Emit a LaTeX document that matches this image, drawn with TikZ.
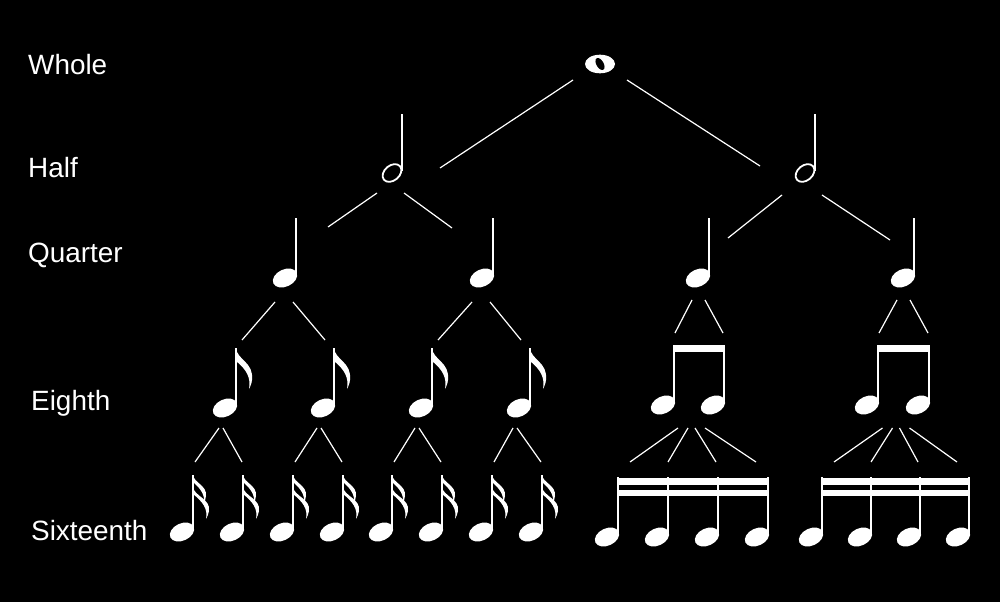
\documentclass[tikz,border=0pt]{standalone}
\usepackage{fontspec}
\setmainfont{Liberation Sans}
\usepackage{tikz}
\usetikzlibrary{calc}

\begin{document}
\begin{tikzpicture}[x=1bp,y=-1bp,line join=bevel,
  link/.style={draw=white,line width=1.2bp},
  lbl/.style={text=white,inner sep=0pt,anchor=base west,font=\fontsize{28}{34}\selectfont},
  nhead/.pic={\fill[white,rotate=25] (0,0) ellipse [x radius=12.8, y radius=8.6];},
  wholenote/.pic={\fill[white] (0,0) ellipse [x radius=15, y radius=9.3];
    \fill[black,rotate=30] (0,0) ellipse [x radius=3.6, y radius=6.6];},
  halfnote/.pic={\draw[white,line width=1.8bp,rotate=40] (0,0) ellipse [x radius=10.5, y radius=7.5];
    \fill[white] (8.6,-2) rectangle (10.7,-59);},
  quarternote/.pic={\pic{nhead}; \fill[white] (9.8,-1) rectangle (12.4,-60);},
  eighthnote/.pic={\pic{quarternote};
    \fill[white] (11,-60) .. controls (12,-48) and (29,-46) .. (27,-28)
      .. controls (26.5,-24) and (25.5,-22) .. (24,-19)
      .. controls (26,-30) and (22,-38) .. (11,-47) -- cycle;},
  sixteenthnote/.pic={\pic{nhead}; \fill[white] (9.8,-1) rectangle (12.4,-57);
    \fill[white] (11,-57) .. controls (12,-49) and (25,-47) .. (24,-36)
      .. controls (23.5,-33) and (23,-31) .. (22,-29)
      .. controls (23,-37) and (19,-43) .. (11,-50) -- cycle;
    \fill[white] (11,-45) .. controls (12,-36) and (29,-33) .. (27,-21)
      .. controls (26.5,-18) and (25.5,-16) .. (24,-13)
      .. controls (26,-23) and (21,-30) .. (11,-38) -- cycle;}]
\path[use as bounding box,fill=black] (0,0) rectangle (1000,602);
%%
  % Labels
  \node[lbl] (lwhole) at (28,75) {Whole};
  \node[lbl] (lhalf) at (28,178) {Half};
  \node[lbl] (lquarter) at (28,263) {Quarter};
  \node[lbl] (leighth) at (31,410) {Eighth};
  \node[lbl] (lsixteenth) at (31,540) {Sixteenth};
  % Node: w
  \path (600,64) coordinate (w) pic {wholenote};
  % Node: h1, h2
  \path (392,173) coordinate (h1) pic {halfnote};
  \path (805,173) coordinate (h2) pic {halfnote};
  % Node: q1 .. q4
  \path (285,278) coordinate (q1) pic {quarternote};
  \path (482,278) coordinate (q2) pic {quarternote};
  \path (698,278) coordinate (q3) pic {quarternote};
  \path (903,278) coordinate (q4) pic {quarternote};
  % Node: e1 .. e4
  \path (225,408) coordinate (e1) pic {eighthnote};
  \path (323,408) coordinate (e2) pic {eighthnote};
  \path (421,408) coordinate (e3) pic {eighthnote};
  \path (519,408) coordinate (e4) pic {eighthnote};
  % Node: b1 .. b4 (beamed eighths)
  \path (663,405) coordinate (b1) pic {quarternote};
  \path (713,405) coordinate (b2) pic {quarternote};
  \path (867,405) coordinate (b3) pic {quarternote};
  \path (918,405) coordinate (b4) pic {quarternote};
  \fill[white] ($(b1)+(9.8,-60)$) rectangle ($(b2)+(12.4,-53)$);
  \fill[white] ($(b3)+(9.8,-60)$) rectangle ($(b4)+(12.4,-53)$);
  \coordinate (p1) at ($(b1)!.5!(b2)$);
  \coordinate (p2) at ($(b3)!.5!(b4)$);
  % Node: s1 .. s8
  \path (182,532) coordinate (s1) pic {sixteenthnote};
  \path (232,532) coordinate (s2) pic {sixteenthnote};
  \path (282,532) coordinate (s3) pic {sixteenthnote};
  \path (332,532) coordinate (s4) pic {sixteenthnote};
  \path (381,532) coordinate (s5) pic {sixteenthnote};
  \path (431,532) coordinate (s6) pic {sixteenthnote};
  \path (481,532) coordinate (s7) pic {sixteenthnote};
  \path (531,532) coordinate (s8) pic {sixteenthnote};
  % Node: t1 .. t8 (beamed sixteenths)
  \path (607,537) coordinate (t1) pic {quarternote};
  \path (657,537) coordinate (t2) pic {quarternote};
  \path (707,537) coordinate (t3) pic {quarternote};
  \path (757,537) coordinate (t4) pic {quarternote};
  \path (811,537) coordinate (t5) pic {quarternote};
  \path (860,537) coordinate (t6) pic {quarternote};
  \path (909,537) coordinate (t7) pic {quarternote};
  \path (958,537) coordinate (t8) pic {quarternote};
  \fill[white] ($(t1)+(9.8,-59)$) rectangle ($(t4)+(12.4,-52)$);
  \fill[white] ($(t1)+(9.8,-47)$) rectangle ($(t4)+(12.4,-41)$);
  \fill[white] ($(t5)+(9.8,-59)$) rectangle ($(t8)+(12.4,-52)$);
  \fill[white] ($(t5)+(9.8,-47)$) rectangle ($(t8)+(12.4,-41)$);
  % Edge: w -- h1, h2
  \draw[link] ($(w)+(-27,16)$) -- ($(h1)+(48,-5)$);
  \draw[link] ($(w)+(27,16)$) -- ($(h2)+(-45,-7)$);
  % Edge: h -- q
  \draw[link] ($(h1)+(-15,20)$) -- ($(q1)+(43,-51)$);
  \draw[link] ($(h1)+(12,20)$) -- ($(q2)+(-30,-50)$);
  \draw[link] ($(h2)+(-23,22)$) -- ($(q3)+(30,-40)$);
  \draw[link] ($(h2)+(17,22)$) -- ($(q4)+(-13,-38)$);
  % Edge: q -- e
  \draw[link] ($(q1)+(-10,24)$) -- ($(e1)+(17,-68)$);
  \draw[link] ($(q1)+(8,24)$) -- ($(e2)+(2,-68)$);
  \draw[link] ($(q2)+(-10,24)$) -- ($(e3)+(17,-68)$);
  \draw[link] ($(q2)+(8,24)$) -- ($(e4)+(2,-68)$);
  \draw[link] ($(q3)+(-6,22)$) -- ($(b1)+(12,-72)$);
  \draw[link] ($(q3)+(7,22)$) -- ($(b2)+(10,-72)$);
  \draw[link] ($(q4)+(-6,22)$) -- ($(b3)+(12,-72)$);
  \draw[link] ($(q4)+(7,22)$) -- ($(b4)+(10,-72)$);
  % Edge: e -- s
  \draw[link] ($(e1)+(-6,20)$) -- ($(s1)+(13,-70)$);
  \draw[link] ($(e1)+(-2,20)$) -- ($(s2)+(10,-70)$);
  \draw[link] ($(e2)+(-6,20)$) -- ($(s3)+(13,-70)$);
  \draw[link] ($(e2)+(-2,20)$) -- ($(s4)+(10,-70)$);
  \draw[link] ($(e3)+(-6,20)$) -- ($(s5)+(13,-70)$);
  \draw[link] ($(e3)+(-2,20)$) -- ($(s6)+(10,-70)$);
  \draw[link] ($(e4)+(-6,20)$) -- ($(s7)+(13,-70)$);
  \draw[link] ($(e4)+(-2,20)$) -- ($(s8)+(10,-70)$);
  % Edge: p -- t
  \draw[link] ($(p1)+(-10,23)$) -- ($(t1)+(23,-75)$);
  \draw[link] ($(p1)+(0,23)$) -- ($(t2)+(11,-75)$);
  \draw[link] ($(p1)+(7,23)$) -- ($(t3)+(9,-75)$);
  \draw[link] ($(p1)+(17,23)$) -- ($(t4)+(-1,-75)$);
  \draw[link] ($(p2)+(-10,23)$) -- ($(t5)+(23,-75)$);
  \draw[link] ($(p2)+(0,23)$) -- ($(t6)+(11,-75)$);
  \draw[link] ($(p2)+(7,23)$) -- ($(t7)+(9,-75)$);
  \draw[link] ($(p2)+(17,23)$) -- ($(t8)+(-1,-75)$);
%
\end{tikzpicture}
\end{document}
